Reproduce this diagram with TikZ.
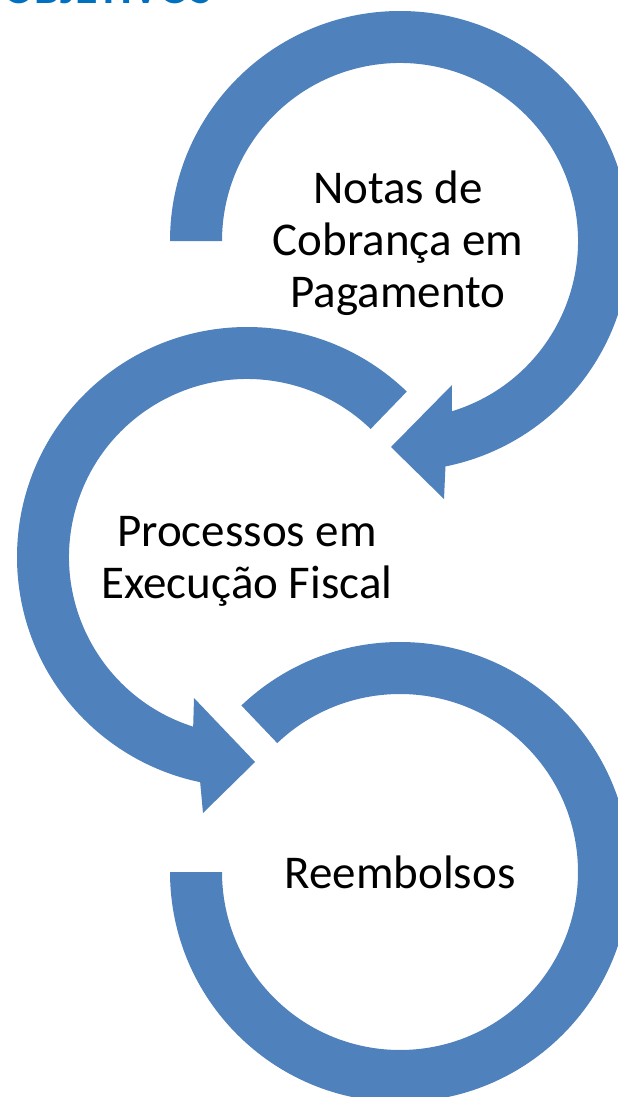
\documentclass[tikz,border=0pt]{standalone}
\usepackage{fontspec}
\setmainfont{Carlito}
\usetikzlibrary{calc}
\definecolor{ringblue}{RGB}{79,129,189}
\definecolor{titleblue}{RGB}{0,112,192}
\begin{document}
\begin{tikzpicture}[x=1pt,y=1pt,
  ring/.style={fill=ringblue,draw=none},
  label/.style={align=center,font=\fontsize{47}{52}\selectfont,text=black,inner sep=0pt,anchor=base}]
\useasboundingbox (0,0) rectangle (618,-1097);
\fill[white] (0,0) rectangle (618,-1097);
% cut-off title at the top edge
\begin{scope}
\clip (0,0) rectangle (618,-4.5);
\node[anchor=base west,inner sep=0pt,font=\fontsize{46}{50}\selectfont\bfseries,text=titleblue] (title) at (3,-3.5) {OBJETIVOS};
\end{scope}
% centres
\coordinate (c1) at (400,-241);
\coordinate (c2) at (247,-557);
\coordinate (c3) at (400,-872);
% ring 1 with arrow head
\fill[ring] ($(c1)+(180:230)$) arc[start angle=180,end angle=-78.6,radius=230]
  -- (444,-499) -- (391,-447) -- (452,-385)
  -- ($(c1)+(-73.1:178)$) arc[start angle=-73.1,end angle=180,radius=178] -- cycle;
% ring 2 with arrow head
\fill[ring] ($(c2)+(46:230)$) arc[start angle=46,end angle=258.25,radius=230]
  -- (203,-813) -- (255,-762) -- (194,-698)
  -- ($(c2)+(252.4:178)$) arc[start angle=252.4,end angle=46,radius=178] -- cycle;
% ring 3
\fill[ring] ($(c3)+(180:230)$) arc[start angle=180,end angle=493.6,radius=230]
  -- ($(c3)+(133.6:178)$) arc[start angle=493.6,end angle=180,radius=178] -- cycle;
% texts (base anchor = baseline of the last line)
\node[label] (t1) at (398,-307) {Notas de\\Cobrança em\\Pagamento};
\node[label] (t2) at (247,-598) {Processos em\\Execução Fiscal};
\node[label] (t3) at (400,-888) {Reembolsos};
\end{tikzpicture}
\end{document}
